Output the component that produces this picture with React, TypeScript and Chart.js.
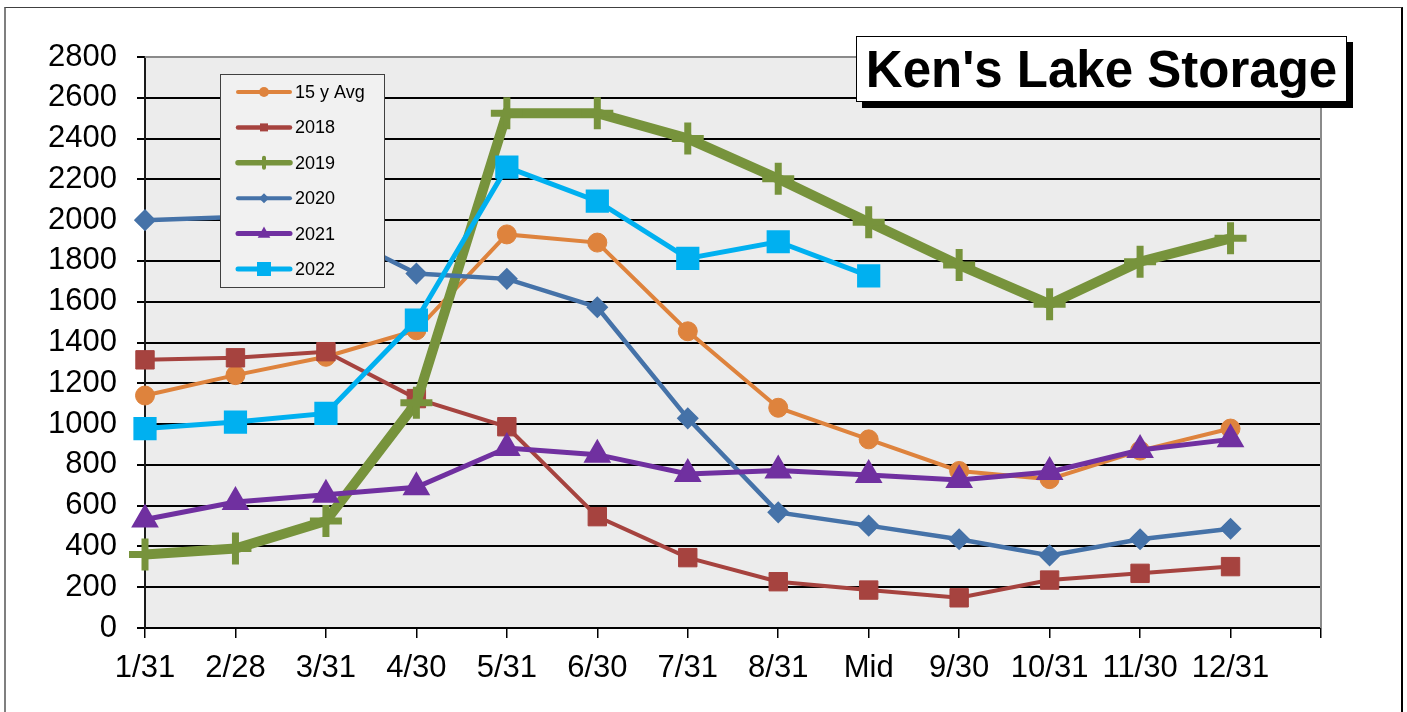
import React, { useEffect, useRef } from 'react';
import { Chart, registerables } from 'chart.js';

Chart.register(...registerables);

// ---------- data ----------
const categories = ['1/31', '2/28', '3/31', '4/30', '5/31', '6/30', '7/31', '8/31', 'Mid', '9/30', '10/31', '11/30', '12/31', ''];
const avg15 = [1140, 1240, 1330, 1460, 1930, 1890, 1455, 1080, 925, 770, 730, 870, 978, null];
const y2018 = [1315, 1325, 1355, 1125, 987, 546, 345, 227, 186, 148, 235, 268, 301, null];
const y2019 = [360, 390, 525, 1105, 2524, 2524, 2400, 2203, 1990, 1780, 1588, 1796, 1911, null];
const y2020 = [2000, 2015, 1960, 1738, 1712, 1573, 1028, 567, 502, 435, 356, 435, 487, null];
const y2021 = [532, 618, 653, 690, 883, 850, 755, 772, 750, 726, 765, 873, 925, null];
const y2022 = [978, 1010, 1052, 1510, 2260, 2093, 1812, 1894, 1727, null, null, null, null, null];

const seriesNames = ['15 y Avg', '2018', '2019', '2020', '2021', '2022'];
const seriesData = [avg15, y2018, y2019, y2020, y2021, y2022];
const seriesColors = ['#DE833D', '#A6433F', '#77933C', '#4572A8', '#7030A0', '#00B0F0'];

const yMin = 0;
const yMax = 2800;
const yStep = 200;
const titleText = "Ken's Lake Storage";

// ---------- styles ----------
const FONT = '"Liberation Sans", Arial, Helvetica, sans-serif';
const pointStyles = ['circle', 'rect', 'cross', 'rectRot', 'triangle', 'rect'];
const lineWidths = [4, 4, 10, 4.5, 5, 5];
const pointRadii = [9.5, 13, 16, 10, 14, 15];
const pointBorders = [1, 1, 7, 1.5, 2, 2];

// legend marker styles
const legendLineW = [4, 4.5, 5.5, 4, 5, 5];
const legendMarkerSize = [5, 8, 10, 5, 7, 14];

function drawMarker(ctx: CanvasRenderingContext2D, style: string, x: number, y: number, s: number, color: string) {
  ctx.save();
  ctx.fillStyle = color;
  ctx.strokeStyle = color;
  ctx.beginPath();
  if (style === 'circle') {
    ctx.arc(x, y, s, 0, Math.PI * 2);
    ctx.fill();
  } else if (style === 'rect') {
    ctx.rect(x - s / 2, y - s / 2, s, s);
    ctx.fill();
  } else if (style === 'cross') {
    ctx.lineWidth = 4;
    ctx.moveTo(x, y - s / 2);
    ctx.lineTo(x, y + s / 2);
    ctx.moveTo(x - s / 2, y);
    ctx.lineTo(x + s / 2, y);
    ctx.stroke();
  } else if (style === 'rectRot') {
    ctx.moveTo(x, y - s);
    ctx.lineTo(x + s, y);
    ctx.lineTo(x, y + s);
    ctx.lineTo(x - s, y);
    ctx.closePath();
    ctx.fill();
  } else if (style === 'triangle') {
    ctx.moveTo(x, y - s);
    ctx.lineTo(x + s * 0.9, y + s * 0.6);
    ctx.lineTo(x - s * 0.9, y + s * 0.6);
    ctx.closePath();
    ctx.fill();
  }
  ctx.restore();
}

const plotBgPlugin = {
  id: 'plotBg',
  beforeDraw(chart: any) {
    const { ctx, chartArea: a } = chart;
    ctx.save();
    ctx.fillStyle = '#ECECEC';
    ctx.fillRect(a.left, a.top, a.right - a.left, a.bottom - a.top);
    ctx.restore();
  },
  beforeDatasetsDraw(chart: any) {
    const { ctx, chartArea: a } = chart;
    ctx.save();
    ctx.strokeStyle = '#8A8A8A';
    ctx.lineWidth = 2;
    ctx.beginPath();
    ctx.moveTo(a.left, a.top);
    ctx.lineTo(a.right, a.top);
    ctx.lineTo(a.right, a.bottom);
    ctx.stroke();
    ctx.restore();
  },
};

const legendPlugin = {
  id: 'boxLegend',
  afterDraw(chart: any) {
    const { ctx } = chart;
    const bx = 220, by = 74, bw = 164, bh = 213;
    ctx.save();
    ctx.fillStyle = '#F1F1F1';
    ctx.fillRect(bx, by, bw, bh);
    ctx.strokeStyle = '#404040';
    ctx.lineWidth = 1;
    ctx.strokeRect(bx + 0.5, by + 0.5, bw, bh);
    ctx.font = `18px ${FONT}`;
    ctx.textBaseline = 'middle';
    ctx.textAlign = 'left';
    seriesNames.forEach((name, i) => {
      const yy = 92 + i * 35.4;
      ctx.strokeStyle = seriesColors[i];
      ctx.lineWidth = legendLineW[i];
      ctx.lineCap = 'round';
      ctx.beginPath();
      ctx.moveTo(238, yy);
      ctx.lineTo(290, yy);
      ctx.stroke();
      drawMarker(ctx, pointStyles[i], 264, yy, legendMarkerSize[i], seriesColors[i]);
      ctx.fillStyle = '#000';
      ctx.fillText(name, 295, yy + 1);
    });
    ctx.restore();
  },
};

export default function App() {
  const canvasRef = useRef<HTMLCanvasElement | null>(null);

  useEffect(() => {
    if (!canvasRef.current) return;
    const datasets = seriesNames.map((name, i) => ({
      label: name,
      data: seriesData[i],
      borderColor: seriesColors[i],
      backgroundColor: seriesColors[i],
      borderWidth: lineWidths[i],
      pointStyle: pointStyles[i],
      pointRadius: pointRadii[i],
      pointHoverRadius: pointRadii[i],
      pointBorderWidth: pointBorders[i],
      pointBackgroundColor: seriesColors[i],
      pointBorderColor: seriesColors[i],
      tension: 0,
      spanGaps: false,
      order: seriesNames.length - i,
    }));

    const chart = new Chart(canvasRef.current, {
      type: 'line',
      data: { labels: categories, datasets },
      options: {
        animation: false,
        responsive: false,
        devicePixelRatio: 1,
        layout: { padding: { top: 57, right: 86, left: 0, bottom: 0 } },
        plugins: {
          legend: { display: false },
          tooltip: { enabled: false },
          title: { display: false },
        },
        scales: {
          x: {
            type: 'category',
            offset: false,
            grid: {
              display: true,
              drawOnChartArea: false,
              drawTicks: true,
              tickLength: 10,
              color: '#000',
              lineWidth: 1.5,
            },
            border: { display: true, color: '#000', width: 2 },
            ticks: {
              autoSkip: false,
              maxRotation: 0,
              minRotation: 0,
              padding: 12,
              color: '#000',
              font: { size: 31, family: FONT },
            },
            afterFit(scale: any) {
              scale.height = 84;
            },
          },
          y: {
            min: yMin,
            max: yMax,
            ticks: {
              stepSize: yStep,
              padding: 20,
              color: '#000',
              font: { size: 31, family: FONT },
              callback: (v: any) => String(v),
            },
            grid: {
              color: (c: any) => (c.tick && c.tick.value === yMax ? '#8A8A8A' : '#000'),
              tickColor: '#000',
              lineWidth: 2,
              tickLength: 8,
              drawTicks: true,
            },
            border: { display: true, color: '#1A1A1A', width: 2 },
            afterFit(scale: any) {
              scale.width = 145;
            },
          },
        },
      },
      plugins: [plotBgPlugin, legendPlugin],
    } as any);

    return () => chart.destroy();
  }, []);

  return (
    <div style={{ position: 'fixed', left: 0, top: 0, width: 1407, height: 712, background: '#fff', overflow: 'hidden' }}>
      <div
        style={{
          position: 'absolute',
          left: 4,
          top: 7,
          width: 1399,
          height: 720,
          borderLeft: '2px solid #7F7F7F',
          borderTop: '1px solid #404040',
          borderRight: '2px solid #000',
          boxSizing: 'border-box',
        }}
      />
      <canvas
        ref={canvasRef}
        width={1407}
        height={712}
        style={{ position: 'absolute', left: 0, top: 0, width: 1407, height: 712 }}
      />
      <div
        style={{
          position: 'absolute',
          left: 856,
          top: 36,
          width: 491,
          height: 66,
          boxSizing: 'border-box',
          background: '#fff',
          border: '1px solid #000',
          boxShadow: '6px 6px 0 #000',
          display: 'flex',
          alignItems: 'center',
          justifyContent: 'center',
          fontFamily: FONT,
          fontWeight: 'bold',
          fontSize: 51,
          color: '#000',
          whiteSpace: 'nowrap',
          lineHeight: 1,
        }}
      >
        {titleText}
      </div>
    </div>
  );
}
